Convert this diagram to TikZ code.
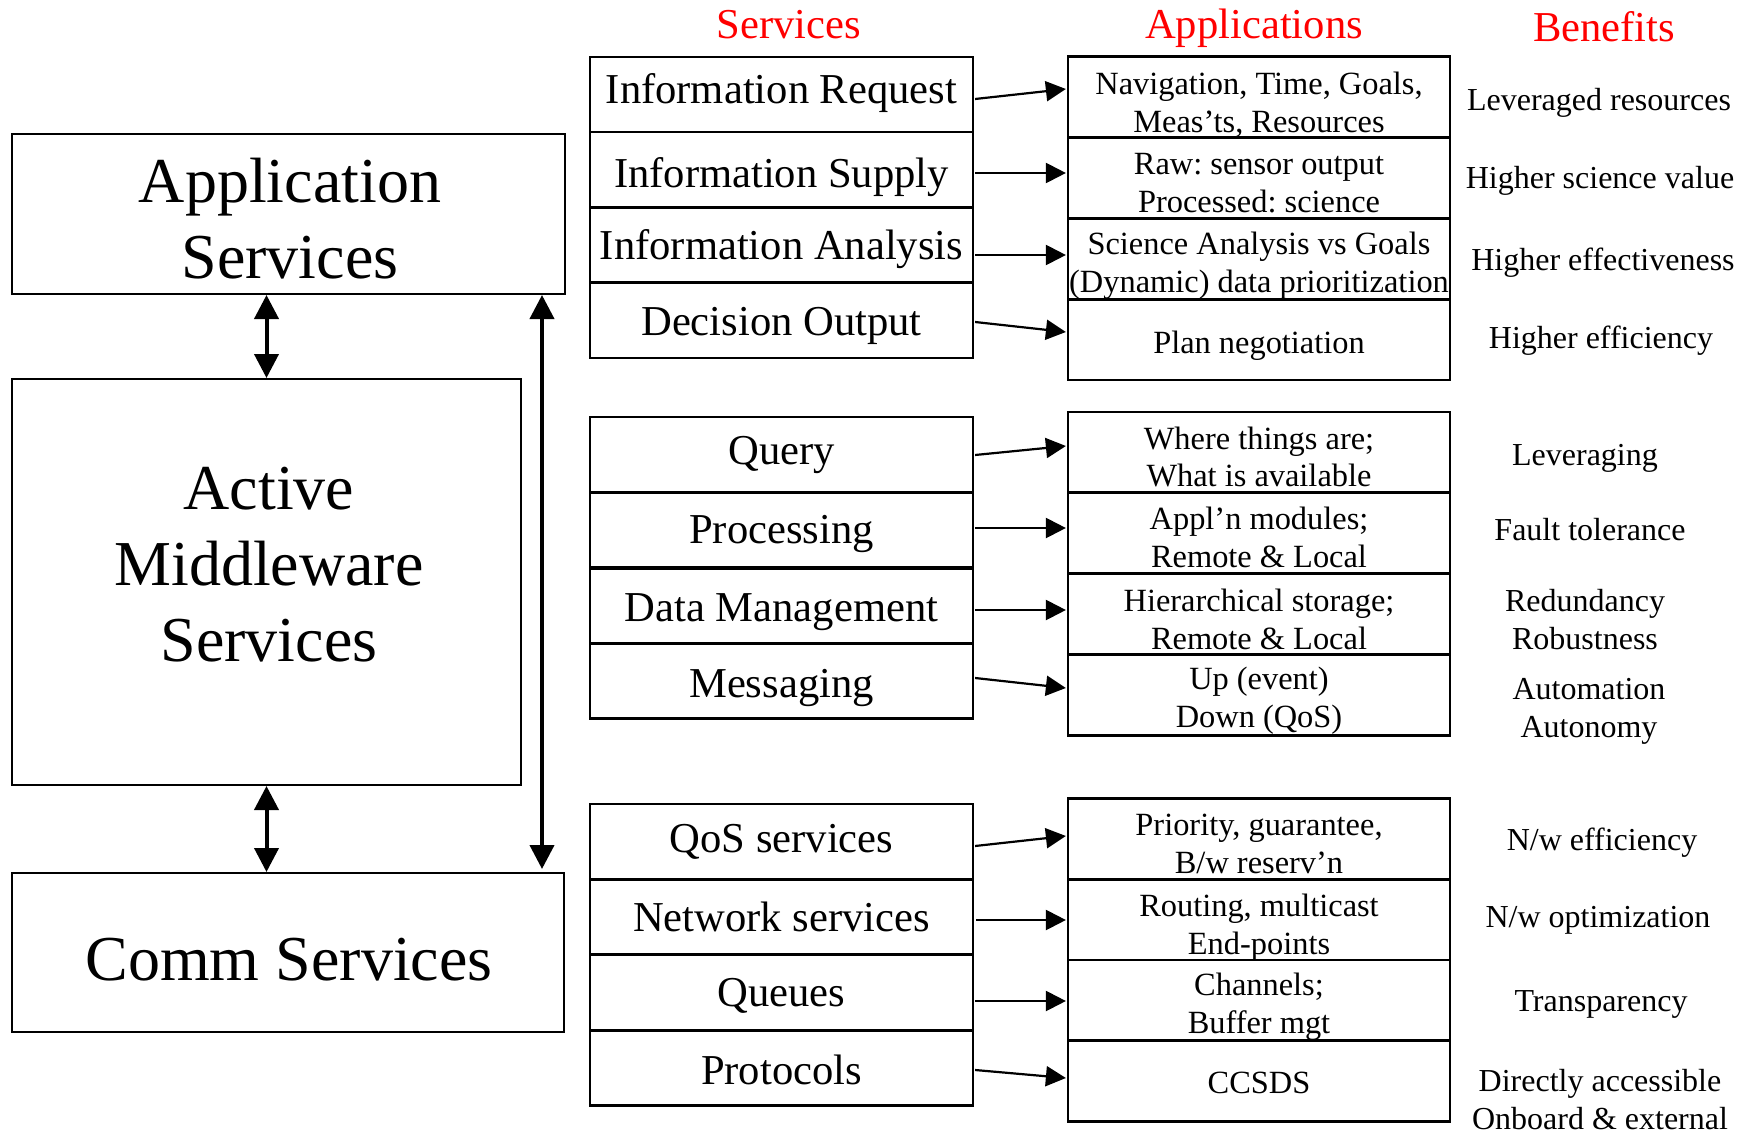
\documentclass[tikz,border=0pt]{standalone}
\usepackage{fontspec}
\setmainfont{Liberation Serif}
\frenchspacing
\usetikzlibrary{arrows.meta,calc}
\newcommand\tbox[5]{\node[#1] (#2) at (#3) {};\node[#1text] (#2t) at ($(#2)+(0,#4)$) {#5};}
\begin{document}
\begin{tikzpicture}[x=0.5pt,y=-0.5pt,
  bigbox/.style={draw,line width=1pt,inner sep=0pt},
  bigtext/.style={font=\fontsize{32}{38}\selectfont,align=center,inner sep=0pt},
  svc/.style={draw,line width=1.1pt,minimum width=191.5pt,minimum height=37.5pt,inner sep=0pt},
  svctext/.style={inner sep=0pt,font=\fontsize{21.3}{25}\selectfont},
  app/.style={draw,line width=1.1pt,minimum width=191pt,minimum height=40.5pt,inner sep=0pt},
  apptext/.style={inner sep=0pt,align=center,font=\fontsize{16.2}{19}\selectfont},
  ben/.style={align=center,inner sep=0pt,font=\fontsize{16}{19}\selectfont},
  head/.style={text=red,inner sep=0pt,font=\fontsize{21.3}{25}\selectfont},
  conn/.style={line width=1.1pt,-{Triangle[length=10pt,width=10pt]}},
  dbl/.style={line width=2pt,{Triangle[length=12pt,width=12pt]}-{Triangle[length=12pt,width=12pt]}}
]
\useasboundingbox (0,0) rectangle (1752,1135);

% left column
\node[bigbox,minimum width=276.5pt,minimum height=80pt] (as) at (288.5,214) {};
\node[bigtext] (ast) at (290,218.5) {Application\\Services};
\node[bigbox,minimum width=254.5pt,minimum height=203pt] (am) at (266.5,582) {};
\node[bigtext] (amt) at (269,565) {Active\\Middleware\\Services};
\node[bigbox,minimum width=276pt,minimum height=79.5pt] (cs) at (288,952.5) {};
\node[bigtext] (cst) at (289,960) {Comm Services};

\draw[dbl] (am.north) -- (am.north |- as.south);
\draw[dbl] (am.south) -- (am.south |- cs.north);
\draw[dbl] (542,0 |- as.south) -- ($(542,0 |- cs.north)+(0,-3)$);

% headers
\node[head] (h1) at (789,25) {Services};
\node[head] (h2) at (1254,28.5) {Applications};
\node[head] (h3) at (1604,27) {Benefits};

% services
\tbox{svc}{s1}{781.5,94.5}{-1}{Information Request}
\tbox{svc}{s2}{781.5,169.5}{8}{Information Supply}
\tbox{svc}{s3}{781.5,245}{4.5}{Information Analysis}
\tbox{svc}{s4}{781.5,320.5}{5.5}{Decision Output}
\tbox{svc}{s5}{781.5,454.5}{0}{Query}
\tbox{svc}{s6}{781.5,530}{3.5}{Processing}
\tbox{svc}{s7}{781.5,606}{6.5}{Data Management}
\tbox{svc}{s8}{781.5,681}{6.5}{Messaging}
\tbox{svc}{s9}{781.5,841.5}{0}{QoS services}
\tbox{svc}{s10}{781.5,917}{0}{Network services}
\tbox{svc}{s11}{781.5,992.5}{3.5}{Queues}
\tbox{svc}{s12}{781.5,1068}{2}{Protocols}

% applications
\tbox{app}{a1}{1259,97}{8}{Navigation, Time, Goals,\\Meas’ts, Resources}
\tbox{app}{a2}{1259,178}{5.5}{Raw: sensor output\\Processed: science}
\tbox{app}{a3}{1259,259}{6.5}{Science Analysis vs Goals\\(Dynamic) data prioritization}
\tbox{app}{a4}{1259,339.5}{6.5}{Plan negotiation}
\tbox{app}{a5}{1259,452.5}{4.5}{Where things are;\\What is available}
\tbox{app}{a6}{1259,533}{4.5}{Appl’n modules;\\Remote \& Local}
\tbox{app}{a7}{1259,614}{5.5}{Hierarchical storage;\\Remote \& Local}
\tbox{app}{a8}{1259,695}{5.5}{Up (event)\\Down (QoS)}
\tbox{app}{a9}{1259,839}{5}{Priority, guarantee,\\B/w reserv’n}
\tbox{app}{a10}{1259,919.5}{8}{Routing, multicast\\End-points}
\tbox{app}{a11}{1259,1000.5}{6.5}{Channels;\\Buffer mgt}
\tbox{app}{a12}{1259,1081}{2}{CCSDS}

% connectors
\draw[conn] ($(s1.east)+(1,4.5)$) -- ($(a1.west)+(-1,-8)$);
\draw[conn] ($(s2.east)+(1,3.5)$) -- ($(a2.west)+(-1,-5)$);
\draw[conn] ($(s3.east)+(1,10)$) -- ($(a3.west)+(-1,-4)$);
\draw[conn] ($(s4.east)+(1,1.5)$) -- ($(a4.west)+(-1,-7.5)$);
\draw[conn] ($(s5.east)+(1,0.5)$) -- ($(a5.west)+(-1,-6.5)$);
\draw[conn] ($(s6.east)+(1,-2)$) -- ($(a6.west)+(-1,-5)$);
\draw[conn] ($(s7.east)+(1,4)$) -- ($(a7.west)+(-1,-4)$);
\draw[conn] ($(s8.east)+(1,-3)$) -- ($(a8.west)+(-1,-7)$);
\draw[conn] ($(s9.east)+(1,4.5)$) -- ($(a9.west)+(-1,-3)$);
\draw[conn] ($(s10.east)+(2,3)$) -- ($(a10.west)+(-1,0.5)$);
\draw[conn] ($(s11.east)+(1,8.5)$) -- ($(a11.west)+(-1,0.5)$);
\draw[conn] ($(s12.east)+(1,2)$) -- ($(a12.west)+(-1,-3)$);

% benefits
\node[ben] (b1) at (1599,102.5) {Leveraged resources};
\node[ben] (b2) at (1600,180.5) {Higher science value};
\node[ben] (b3) at (1603,262.5) {Higher effectiveness};
\node[ben] (b4) at (1601,340.5) {Higher efficiency};
\node[ben] (b5) at (1585,458.5) {Leveraging};
\node[ben] (b6) at (1590,530) {Fault tolerance};
\node[ben] (b7) at (1585,620) {Redundancy\\Robustness};
\node[ben] (b8) at (1589,711.5) {Automation\\Autonomy};
\node[ben] (b9) at (1602,842.5) {N/w efficiency};
\node[ben] (b10) at (1598,920.5) {N/w optimization};
\node[ben] (b11) at (1601,1004.5) {Transparency};
\node[ben] (b12) at (1600,1100) {Directly accessible\\Onboard \& external};
\end{tikzpicture}
\end{document}
